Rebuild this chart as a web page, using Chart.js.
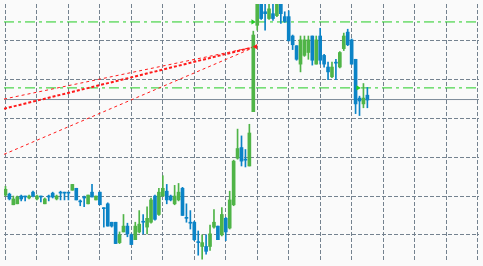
<!DOCTYPE html>
<html>
<head>
<meta charset="utf-8">
<script src="https://cdn.jsdelivr.net/npm/chart.js@4.4.0/dist/chart.umd.min.js"></script>
<style>
    html, body { margin: 0; padding: 0; background: #fafafa; }
    canvas { display: block; }
</style>
</head>
<body>
<canvas id="myChart" width="483" height="266"></canvas>
<script>
// OHLC, one entry per bar (bar 0 at the left edge)
const opens = [1.3121,1.3122,1.3111,1.3112,1.3120,1.3120,1.3118,1.3124,1.3117,1.3120,
    1.3112,1.3120,1.3123,1.3117,1.3124,1.3124,1.3124,1.3126,1.3128,1.3115,
    1.3119,1.3112,1.3124,1.3116,1.3124,1.3108,1.3112,1.3093,1.3093,1.3072,
    1.3083,1.3089,1.3080,1.3075,1.3083,1.3094,1.3088,1.3093,1.3120,1.3101,
    1.3120,1.3125,1.3120,1.3112,1.3116,1.3128,1.3098,1.3093,1.3093,1.3073,
    1.3068,1.3068,1.3068,1.3088,1.3089,1.3080,1.3097,1.3087,1.3111,1.3159,
    1.3170,1.3158,1.3151,1.3207,1.3296,1.3321,1.3310,1.3303,1.3308,1.3306,
    1.3322,1.3305,1.3305,1.3285,1.3275,1.3256,1.3265,1.3268,1.3285,1.3256,
    1.3285,1.3265,1.3253,1.3243,1.3258,1.3253,1.3272,1.3289,1.3281,1.3261,
    1.3221,1.3215,1.3224];
const highs = [1.3130,1.3123,1.3120,1.3120,1.3121,1.3120,1.3121,1.3125,1.3121,1.3120,
    1.3118,1.3121,1.3124,1.3121,1.3125,1.3124,1.3124,1.3132,1.3128,1.3116,
    1.3120,1.3121,1.3132,1.3120,1.3124,1.3108,1.3113,1.3093,1.3093,1.3083,
    1.3101,1.3092,1.3081,1.3093,1.3105,1.3101,1.3109,1.3118,1.3121,1.3128,
    1.3141,1.3132,1.3121,1.3131,1.3133,1.3129,1.3112,1.3105,1.3094,1.3084,
    1.3080,1.3080,1.3090,1.3106,1.3089,1.3108,1.3098,1.3125,1.3157,1.3189,
    1.3182,1.3168,1.3194,1.3290,1.3328,1.3324,1.3318,1.3318,1.3318,1.3323,
    1.3324,1.3310,1.3311,1.3286,1.3275,1.3285,1.3285,1.3285,1.3285,1.3285,
    1.3293,1.3266,1.3258,1.3258,1.3261,1.3269,1.3288,1.3292,1.3282,1.3261,
    1.3223,1.3236,1.3232];
const lows = [1.3120,1.3116,1.3111,1.3112,1.3115,1.3115,1.3117,1.3119,1.3116,1.3114,
    1.3112,1.3115,1.3118,1.3116,1.3116,1.3116,1.3116,1.3126,1.3116,1.3110,
    1.3109,1.3112,1.3119,1.3116,1.3111,1.3088,1.3089,1.3088,1.3071,1.3071,
    1.3083,1.3078,1.3070,1.3075,1.3082,1.3081,1.3081,1.3092,1.3095,1.3100,
    1.3120,1.3112,1.3115,1.3111,1.3115,1.3100,1.3093,1.3086,1.3074,1.3059,
    1.3055,1.3060,1.3064,1.3087,1.3075,1.3079,1.3074,1.3086,1.3110,1.3158,
    1.3151,1.3150,1.3151,1.3207,1.3291,1.3302,1.3291,1.3302,1.3301,1.3305,
    1.3298,1.3299,1.3280,1.3271,1.3260,1.3248,1.3264,1.3261,1.3255,1.3256,
    1.3256,1.3253,1.3240,1.3242,1.3240,1.3252,1.3270,1.3275,1.3256,1.3205,
    1.3203,1.3211,1.3211];
const closes = [1.3127,1.3117,1.3117,1.3119,1.3117,1.3119,1.3120,1.3120,1.3120,1.3119,
    1.3117,1.3119,1.3119,1.3120,1.3123,1.3123,1.3123,1.3132,1.3116,1.3114,
    1.3118,1.3121,1.3119,1.3120,1.3111,1.3107,1.3089,1.3089,1.3071,1.3080,
    1.3089,1.3081,1.3070,1.3089,1.3091,1.3093,1.3097,1.3116,1.3096,1.3124,
    1.3128,1.3116,1.3116,1.3120,1.3124,1.3100,1.3097,1.3092,1.3075,1.3072,
    1.3072,1.3063,1.3081,1.3093,1.3075,1.3101,1.3083,1.3116,1.3156,1.3169,
    1.3156,1.3157,1.3185,1.3286,1.3323,1.3303,1.3308,1.3313,1.3303,1.3320,
    1.3308,1.3300,1.3280,1.3276,1.3261,1.3281,1.3281,1.3281,1.3260,1.3281,
    1.3260,1.3256,1.3248,1.3253,1.3257,1.3268,1.3285,1.3276,1.3256,1.3215,
    1.3218,1.3221,1.3219];

// horizontal levels
const upperLevel = 1.32995;
const lowerLevel = 1.32315;
const bidLevel = 1.32195;

// trend lines: price at the left edge, all meeting at one point
const trendStarts = [1.3220, 1.3210, 1.3163];
const trendEndBar = 63.6;
const trendEndPrice = 1.3274;

// arrow markers
const arrowBars = [62.9, 89.6];
const arrowPrices = [1.32995, 1.32315];

// grid
const xGridBars = [0, 8, 16, 24, 32, 40, 48, 56, 64, 72, 80, 88, 96, 104, 112, 120];
const yGridPrices = [1.3080, 1.3120, 1.3160, 1.3200, 1.3240, 1.3280];

const X_MIN = -0.375, X_MAX = 120.375;
const Y_MIN = 1.3052, Y_MAX = 1.3318;

const UP = '#4fb447';
const DOWN = '#0b83c6';
const GRID = '#74828f';

const candleColors = opens.map((o, i) => closes[i] >= o ? UP : DOWN);

const wicks = opens.map((o, i) => ({ x: i, y: [lows[i], highs[i]] }));
const bodies = opens.map((o, i) => ({ x: i, y: [o, closes[i]] }));

const trendSets = trendStarts.map((p, k) => ({
    type: 'line',
    data: [{ x: X_MIN, y: p }, { x: trendEndBar, y: trendEndPrice }],
    borderColor: '#ff1a1a',
    borderWidth: k === 1 ? 2 : 1,
    borderDash: k === 1 ? [3, 2] : [3, 3],
    pointRadius: 0,
    fill: false,
    order: 5
}));

function hLine(price, color, dash) {
    return {
        type: 'line',
        data: [{ x: X_MIN, y: price }, { x: X_MAX, y: price }],
        borderColor: color,
        borderWidth: 1,
        borderDash: dash,
        pointRadius: 0,
        fill: false,
        order: 6
    };
}

const ctx = document.getElementById('myChart').getContext('2d');

new Chart(ctx, {
    type: 'bar',
    data: {
        datasets: [
            {
                data: wicks,
                backgroundColor: candleColors,
                barThickness: 1,
                grouped: false,
                order: 2
            },
            {
                data: bodies,
                backgroundColor: candleColors,
                barThickness: 3,
                minBarLength: 1,
                grouped: false,
                order: 1
            },
            hLine(upperLevel, '#22cc22', [10, 4, 3, 4]),
            hLine(lowerLevel, '#22cc22', [10, 4, 3, 4]),
            hLine(bidLevel, '#7d8b99', []),
            ...trendSets,
            {
                type: 'line',
                data: arrowBars.map((b, i) => ({ x: b, y: arrowPrices[i] })),
                showLine: false,
                pointStyle: 'triangle',
                rotation: 90,
                pointRadius: 3,
                pointBackgroundColor: '#22cc22',
                pointBorderWidth: 0,
                order: 0
            },
            {
                type: 'line',
                data: [{ x: trendEndBar, y: trendEndPrice }],
                showLine: false,
                pointStyle: 'triangle',
                rotation: 270,
                pointRadius: 3,
                pointBackgroundColor: '#ff1a1a',
                pointBorderWidth: 0,
                order: 0
            }
        ]
    },
    options: {
        responsive: false,
        devicePixelRatio: 1,
        animation: false,
        layout: { padding: 0 },
        plugins: {
            legend: { display: false },
            tooltip: { enabled: false }
        },
        scales: {
            x: {
                type: 'linear',
                min: X_MIN,
                max: X_MAX,
                offset: false,
                ticks: { display: false },
                grid: { color: GRID, lineWidth: 1, drawTicks: false, offset: false },
                border: { display: false, dash: [4, 2] },
                afterBuildTicks: axis => { axis.ticks = xGridBars.map(v => ({ value: v })); }
            },
            y: {
                type: 'linear',
                min: Y_MIN,
                max: Y_MAX,
                ticks: { display: false },
                grid: { color: GRID, lineWidth: 1, drawTicks: false, offset: false },
                border: { display: false, dash: [4, 2] },
                afterBuildTicks: axis => { axis.ticks = yGridPrices.map(v => ({ value: v })); }
            }
        }
    }
});
</script>
</body>
</html>
